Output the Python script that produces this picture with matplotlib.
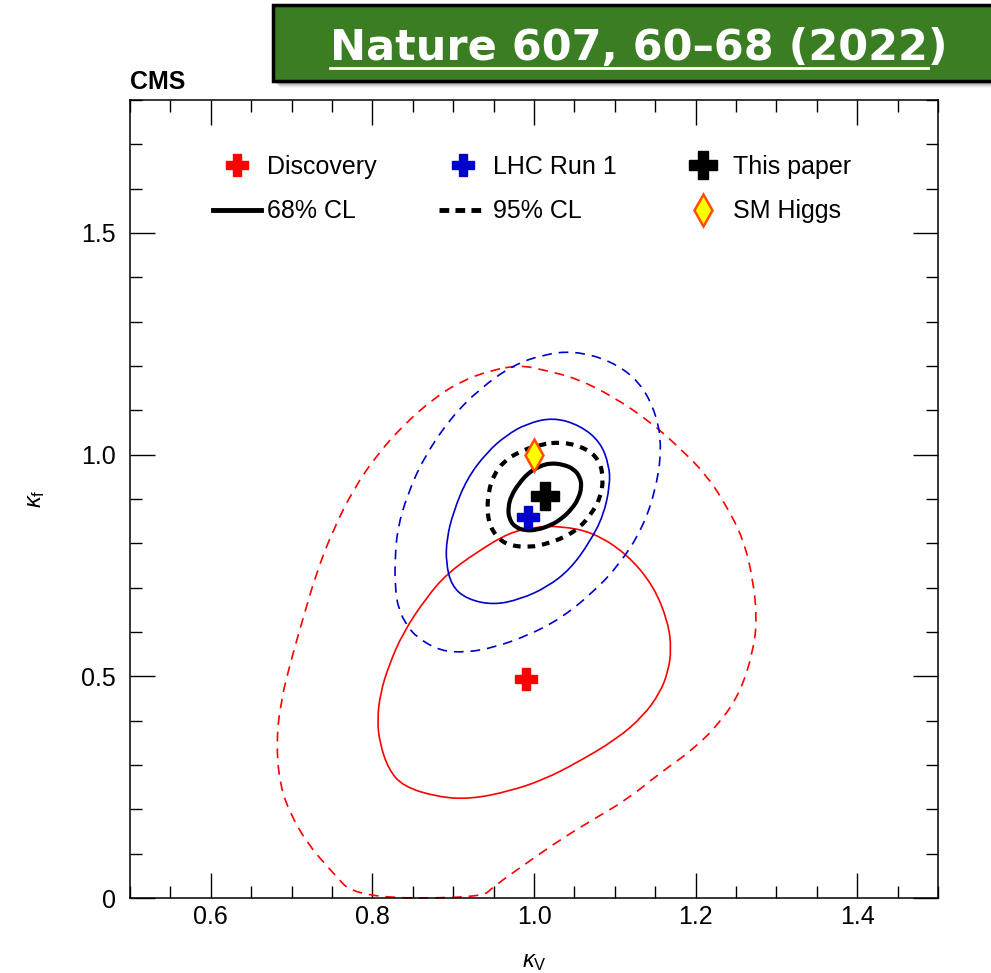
import matplotlib
matplotlib.use('Agg')
import matplotlib.pyplot as plt
from matplotlib.patches import Rectangle, PathPatch
from matplotlib.lines import Line2D
from matplotlib.path import Path
from matplotlib.ticker import MultipleLocator, FuncFormatter

# ---------------- data ----------------
discovery_best = (0.990, 0.495)
run1_best = (0.992, 0.859)
this_paper_best = (1.014, 0.907)
sm_higgs = (1.0, 1.0)

black_68_kv = [1.020, 1.036, 1.049, 1.057, 1.059, 1.055, 1.047, 1.034, 1.020, 1.003, 0.989, 0.977, 0.969, 0.968, 0.972, 0.981, 0.993, 1.007]
black_68_kf = [0.981, 0.978, 0.968, 0.950, 0.927, 0.901, 0.878, 0.855, 0.840, 0.830, 0.829, 0.836, 0.855, 0.882, 0.908, 0.934, 0.959, 0.974]

black_95_kv = [1.036, 1.065, 1.081, 1.086, 1.082, 1.071, 1.057, 1.038, 1.016, 0.995, 0.970, 0.956, 0.945, 0.942, 0.944, 0.950, 0.962, 0.981, 1.007]
black_95_kf = [1.029, 1.014, 0.987, 0.946, 0.901, 0.867, 0.836, 0.814, 0.799, 0.791, 0.795, 0.810, 0.840, 0.878, 0.919, 0.953, 0.984, 1.006, 1.023]

blue_68_kv = [1.024, 1.057, 1.082, 1.093, 1.094, 1.086, 1.069, 1.045, 1.016, 0.983, 0.950, 0.917, 0.898, 0.891, 0.892, 0.900, 0.917, 0.942, 0.966, 0.991]
blue_68_kf = [1.084, 1.066, 1.029, 0.976, 0.931, 0.863, 0.803, 0.742, 0.701, 0.674, 0.661, 0.674, 0.704, 0.757, 0.810, 0.870, 0.946, 1.006, 1.044, 1.070]

blue_95_kv = [1.049, 1.094, 1.131, 1.152, 1.158, 1.151, 1.134, 1.106, 1.073, 1.032, 0.991, 0.950, 0.917, 0.884, 0.855, 0.843, 0.832, 0.828, 0.828, 0.831, 0.843, 0.863, 0.896, 0.933, 0.974, 1.012]
blue_95_kf = [1.234, 1.213, 1.165, 1.089, 1.014, 0.923, 0.833, 0.753, 0.689, 0.629, 0.591, 0.565, 0.554, 0.557, 0.588, 0.614, 0.652, 0.704, 0.765, 0.833, 0.908, 0.991, 1.081, 1.149, 1.202, 1.226]

red_68_kv = [1.003, 1.032, 1.073, 1.115, 1.148, 1.166, 1.170, 1.166, 1.156, 1.135, 1.102, 1.053, 1.012, 0.970, 0.921, 0.880, 0.838, 0.820, 0.809, 0.806, 0.810, 0.820, 0.838, 0.867, 0.892, 0.929, 0.970]
red_68_kf = [0.837, 0.839, 0.825, 0.776, 0.704, 0.622, 0.561, 0.511, 0.463, 0.410, 0.358, 0.305, 0.267, 0.241, 0.223, 0.228, 0.252, 0.290, 0.350, 0.403, 0.463, 0.523, 0.599, 0.678, 0.731, 0.780, 0.825]

red_95_kv = [0.983, 1.012, 1.053, 1.098, 1.144, 1.181, 1.214, 1.238, 1.259, 1.271, 1.276, 1.271, 1.255, 1.230, 1.197, 1.156, 1.115, 1.073, 1.032, 0.991, 0.950, 0.935, 0.780, 0.748, 0.719, 0.698, 0.686, 0.681, 0.686, 0.702, 0.715, 0.731, 0.752, 0.777, 0.805, 0.838, 0.876, 0.909, 0.946]
red_95_kf = [1.202, 1.191, 1.172, 1.131, 1.074, 1.014, 0.953, 0.885, 0.810, 0.720, 0.629, 0.554, 0.463, 0.395, 0.335, 0.282, 0.222, 0.177, 0.131, 0.079, 0.026, 0.0, 0.0, 0.063, 0.124, 0.192, 0.252, 0.342, 0.441, 0.554, 0.636, 0.735, 0.833, 0.923, 0.998, 1.066, 1.127, 1.165, 1.190]

legend_labels = ['Discovery', '68% CL', 'LHC Run 1', '95% CL', 'This paper', 'SM Higgs']
banner_text = 'Nature 607, 60\u201368 (2022)'

# ---------------- style ----------------
plt.rcParams['font.family'] = ['Liberation Sans', 'DejaVu Sans']
plt.rcParams['mathtext.fontset'] = 'custom'
plt.rcParams['mathtext.rm'] = 'Liberation Sans'
plt.rcParams['mathtext.it'] = 'Liberation Sans:italic'
plt.rcParams['lines.scale_dashes'] = False

W, H = 991, 973
fig = plt.figure(figsize=(W / 100, H / 100), dpi=100)
ax = fig.add_axes([130 / W, 75 / H, 808 / W, 798 / H])
ax.set_xlim(0.5, 1.5)
ax.set_ylim(0.0, 1.8)

RED = '#FF0000'
BLUE = '#0000CC'
DASH = (0, (7, 5))
BDASH = (0, (5.5, 5))


def smooth_closed_path(xs, ys):
    """Closed quadratic-Bezier path using the contour points as control points."""
    pts = list(zip(xs, ys))
    n = len(pts)
    mids = [((pts[i][0] + pts[(i + 1) % n][0]) / 2, (pts[i][1] + pts[(i + 1) % n][1]) / 2)
            for i in range(n)]
    verts = [mids[-1]]
    codes = [Path.MOVETO]
    for i in range(n):
        verts += [pts[i], mids[i]]
        codes += [Path.CURVE3, Path.CURVE3]
    return Path(verts, codes)


def contour(xs, ys, color, lw, ls, z, clip=True):
    p = PathPatch(smooth_closed_path(xs, ys), fill=False, edgecolor=color, lw=lw,
                  linestyle=ls, zorder=z, capstyle='butt', joinstyle='round')
    p.set_clip_on(clip)
    ax.add_patch(p)


contour(red_95_kv, red_95_kf, RED, 1.2, DASH, 2, clip=False)
contour(red_68_kv, red_68_kf, RED, 1.2, '-', 2)
contour(blue_95_kv, blue_95_kf, BLUE, 1.2, DASH, 3)
contour(blue_68_kv, blue_68_kf, BLUE, 1.2, '-', 3)
contour(black_95_kv, black_95_kf, 'black', 3, BDASH, 4)
contour(black_68_kv, black_68_kf, 'black', 3, '-', 4)

ax.plot(*discovery_best, marker='P', ms=16, color=RED, mec=RED, ls='none', zorder=6)
ax.plot(*run1_best, marker='P', ms=16, color=BLUE, mec=BLUE, ls='none', zorder=6)
ax.plot(*this_paper_best, marker='P', ms=20, color='black', mec='black', ls='none', zorder=7)
ax.plot(*sm_higgs, marker='d', ms=16, mfc='#FFFF00', mec='#FF4E00', mew=1.8, ls='none', zorder=8)

# ticks
ax.xaxis.set_major_locator(MultipleLocator(0.2))
ax.xaxis.set_minor_locator(MultipleLocator(0.05))
ax.yaxis.set_major_locator(MultipleLocator(0.5))
ax.yaxis.set_minor_locator(MultipleLocator(0.1))
ax.xaxis.set_major_formatter(FuncFormatter(lambda v, p: '%.1f' % v))
ax.yaxis.set_major_formatter(FuncFormatter(lambda v, p: '0' if abs(v) < 1e-9 else '%.1f' % v))
ax.tick_params(which='both', direction='in', top=True, right=True, width=1.0, colors='black', labelsize=18)
ax.tick_params(which='major', length=18)
ax.tick_params(which='minor', length=8.6)
ax.tick_params(axis='x', which='major', pad=5)
ax.tick_params(axis='y', which='major', pad=10)
for s in ax.spines.values():
    s.set_linewidth(1.1)

ax.set_xlabel(r'$\kappa_{\rm V}$', fontsize=17)
ax.set_ylabel(r'$\kappa_{\rm f}$', fontsize=17)
ax.xaxis.set_label_coords(0.5, -0.066)
ax.yaxis.set_label_coords(-0.103, 0.5)

ax.text(0.0, 1.014, 'CMS', transform=ax.transAxes, fontsize=18, fontweight='bold', va='baseline', ha='left')

# legend
handles = [
    Line2D([], [], ls='none', marker='P', ms=16, color=RED, mec=RED),
    Line2D([], [], color='black', lw=3.5),
    Line2D([], [], ls='none', marker='P', ms=16, color=BLUE, mec=BLUE),
    Line2D([], [], color='black', lw=3.5, ls=(0, (7, 4.5))),
    Line2D([], [], ls='none', marker='P', ms=20, color='black', mec='black'),
    Line2D([], [], ls='none', marker='d', ms=16, mfc='#FFFF00', mec='#FF4E00', mew=1.8),
]
ax.legend(handles, legend_labels, ncol=3, loc='upper left',
          bbox_to_anchor=((213 - 130) / 808, (898 - 155) / 798),
          frameon=False, fontsize=18, handlelength=1.9, handletextpad=0.25,
          columnspacing=2.5, labelspacing=0.82, borderpad=0, borderaxespad=0)

# banner
def fx(px):
    return px / W


def fy(py):
    return 1 - py / H


for i, a in enumerate([0.10, 0.10, 0.08, 0.06, 0.04]):
    fig.add_artist(Rectangle((fx(276 + i), fy(82 + 2 + i)), fx(800), 76 / H,
                             transform=fig.transFigure, facecolor='black', alpha=a,
                             edgecolor='none', zorder=1))
fig.add_artist(Rectangle((fx(273), fy(81)), fx(800), 76 / H, transform=fig.transFigure,
                         facecolor='#3B7D23', edgecolor='black', lw=2.5, zorder=2))
BFONT = dict(fontsize=31, fontweight='bold', family=['DejaVu Sans'])
t = fig.text(fx(330), fy(60), banner_text, color='white', ha='left', va='baseline', zorder=3, **BFONT)
fig.canvas.draw()
tmp = fig.text(fx(330), fy(60), banner_text[:-1], ha='left', va='baseline', **BFONT)
bb = tmp.get_window_extent(renderer=fig.canvas.get_renderer())
tmp.remove()
fig.add_artist(Line2D([bb.x0 / W, bb.x1 / W], [fy(68), fy(68)], transform=fig.transFigure,
                      color='white', lw=2, zorder=3))

fig.savefig('out.png', dpi=100)
